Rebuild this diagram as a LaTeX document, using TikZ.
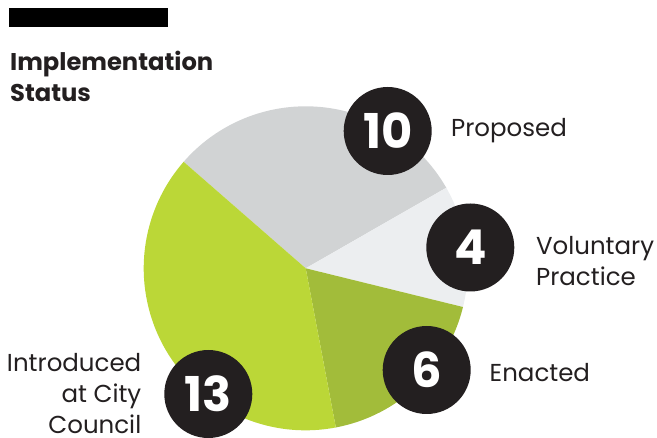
\documentclass[tikz,border=0pt]{standalone}
\usepackage{fontspec}
\setmainfont{Poppins}
\usepackage{tikz}
\usetikzlibrary{positioning}

\definecolor{ink}{HTML}{231F20}
\definecolor{proposedgrey}{HTML}{D1D3D4}
\definecolor{voluntarygrey}{HTML}{ECEEF0}
\definecolor{enactedgreen}{HTML}{A2BC3A}
\definecolor{introducedgreen}{HTML}{BBD737}

\begin{document}
\begin{tikzpicture}[x=1pt,y=-1pt]
 \useasboundingbox (0,0) rectangle (657,438);
 \coordinate (centre) at (305.7,268.3);

\tikzstyle{badge}=[circle,fill=ink,text=white,minimum size=88pt,inner sep=0pt,font=\fontsize{48}{48}\selectfont\bfseries]
\tikzstyle{status}=[inner sep=0pt,text=ink,font=\fontsize{24.5}{31}\selectfont]

   %draw bar and title
    \node (bar) [fill=black,anchor=north west,minimum width=159.4pt,minimum height=18.4pt,inner sep=0pt] at (8.3,8.3) {};
    \node (title) [anchor=base west,inner sep=0pt,align=left,text=ink,font=\fontsize{24.2}{31.5}\selectfont\bfseries] at (10,101.7) {Implementation\\Status};

   %draw slices
    \fill[proposedgrey] (centre) -- ++(138.9:162pt) arc[start angle=138.9,end angle=29.81,radius=162pt] -- cycle;
    \fill[voluntarygrey] (centre) -- ++(29.81:162pt) arc[start angle=29.81,end angle=-13.83,radius=162pt] -- cycle;
    \fill[enactedgreen] (centre) -- ++(-13.83:162pt) arc[start angle=-13.83,end angle=-79.28,radius=162pt] -- cycle;
    \fill[introducedgreen] (centre) -- ++(-79.28:162pt) arc[start angle=-79.28,end angle=-221.1,radius=162pt] -- cycle;

    \node (b10) [badge] at (387.7,131) {10};
    \node (b4) [badge] at (470.3,247.5) {4};
    \node (b6) [badge] at (426.7,370) {6};
    \node (b13) [badge] at (208.3,394) {13};

    \node (proposed_label) [status,anchor=base west] at ([xshift=19pt,yshift=-5.7pt]b10.east) {Proposed};
    \node (voluntary_label) [status,anchor=base west,align=left] at ([xshift=21.4pt,yshift=-38.5pt]b4.east) {Voluntary\\Practice};
    \node (enacted_label) [status,anchor=base west] at ([xshift=18.6pt,yshift=-11.7pt]b6.east) {Enacted};
    \node (introduced_label) [status,anchor=base east,align=right] at ([xshift=-22.6pt,yshift=-39.3pt]b13.west) {Introduced\\at City\\Council};

\end{tikzpicture}
\end{document}
